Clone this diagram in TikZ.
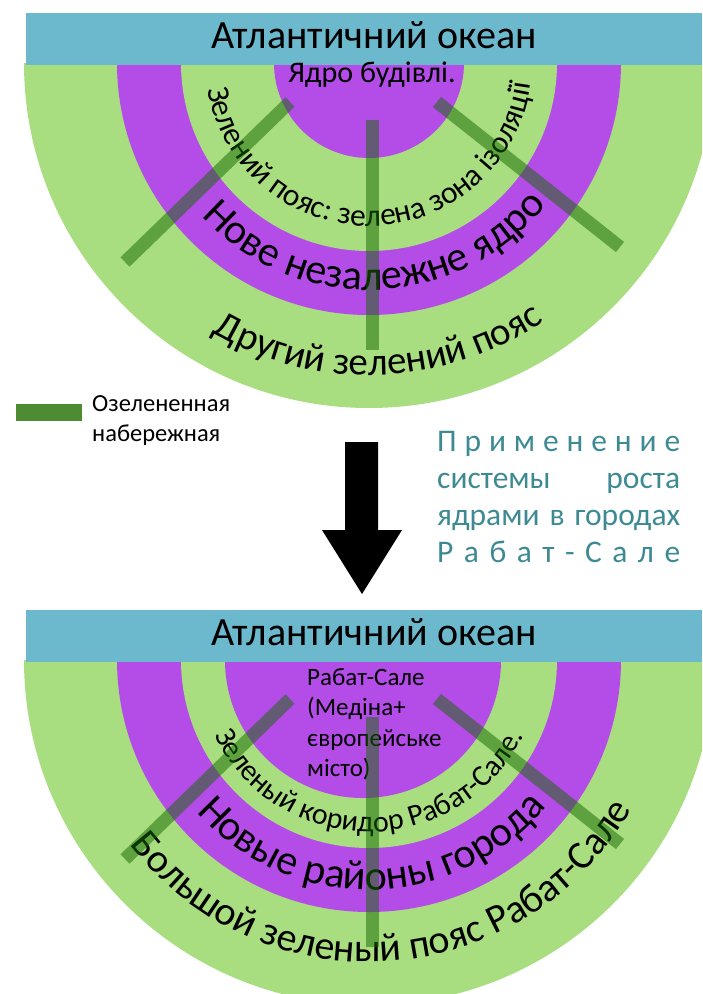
\documentclass[tikz,border=0pt]{standalone}
\usepackage{fontspec}
\setmainfont{Carlito}
\usepackage{tikz}
\usetikzlibrary{decorations.text}
\definecolor{oceanblue}{RGB}{108,184,204}
\definecolor{beltgreen}{RGB}{168,221,128}
\definecolor{coreviolet}{RGB}{180,76,232}
\definecolor{quaygreen}{RGB}{20,105,0}
\definecolor{legendgreen}{RGB}{78,140,52}
\definecolor{noteteal}{RGB}{62,138,147}
\newcommand{\ringfont}{\fontsize{42}{42}\selectfont}
\newcommand{\outerfont}{\fontsize{39}{39}\selectfont}
\newcommand{\innerfont}{\fontsize{30}{30}\selectfont}

\tikzset{
  ocean/.style={fill=oceanblue},
  belt/.style={fill=beltgreen},
  core/.style={fill=coreviolet},
  quay/.style={draw=quaygreen, draw opacity=0.5, line width=13pt},
  ringtext/.style={decorate, decoration={text along path, text align=center, text={#1}}},
  oceantitle/.style={anchor=base, inner sep=0, font=\fontsize{40}{40}\selectfont},
}

\begin{document}
\begin{tikzpicture}[x=1pt, y=1pt]
\clip (0,0) rectangle (702,-994);

\begin{scope}[every node/.style={inner sep=0}]
\fill[belt] (24,-63) arc[start angle=180, end angle=360, radius=345] -- cycle;
\fill[core] (117,-63) arc[start angle=180, end angle=360, radius=252] -- cycle;
\fill[belt] (181,-63) arc[start angle=180, end angle=360, radius=188] -- cycle;
\fill[core] (274,-63) arc[start angle=180, end angle=360, radius=95] -- cycle;
\fill[ocean] (26,-13) rectangle (702,-65);

\node[oceantitle] (ocean1) at (374,-48) {Атлантичний океан};
\node[anchor=base, font=\innerfont] (core1) at (372,-82) {Ядро будівлі.};

\path[ringtext={|\fontsize{31.5}{31.5}\selectfont|Зелений пояс: зелена зона ізоляції}] (369,-63) ++(181:163) arc[start angle=181, end angle=361, radius=163];
\path[ringtext={|\ringfont|Нове незалежне ядро}] (369,-63) ++(182:227) arc[start angle=182, end angle=362, radius=227];
\path[ringtext={|\outerfont|Другий зелений пояс}] (369,-63) ++(182:312) arc[start angle=182, end angle=362, radius=312];

\draw[quay] (290,-102) -- (125,-262);
\draw[quay] (372,-120) -- (372,-350);
\draw[quay] (437,-102) -- (620,-247);
\end{scope}

\begin{scope}[yshift=-597, every node/.style={inner sep=0}]
\fill[belt] (24,-63) arc[start angle=180, end angle=360, radius=345] -- cycle;
\fill[core] (117,-63) arc[start angle=180, end angle=360, radius=252] -- cycle;
\fill[belt] (181,-63) arc[start angle=180, end angle=360, radius=188] -- cycle;
\fill[core] (225,-63) arc[start angle=180, end angle=360, radius=138] -- cycle;
\fill[ocean] (26,-13) rectangle (702,-65);

\node[oceantitle] (ocean2) at (374,-48) {Атлантичний океан};
\node[anchor=north west, align=left, font=\fontsize{25}{30.5}\selectfont] (core2) at (307,-71)
  {Рабат-Сале\\(Медіна+\\європейське\\місто)};

\path[ringtext={|\innerfont|Зеленый коридор Рабат-Сале.}] (369,-63) ++(180:172) arc[start angle=180, end angle=360, radius=172];
\path[ringtext={|\ringfont|Новые районы города}] (369,-63) ++(181:230) arc[start angle=181, end angle=361, radius=230];
\path[ringtext={|\fontsize{40}{40}\selectfont|Большой зеленый пояс Рабат-Сале}] (369,-63) ++(184:302) arc[start angle=184, end angle=364, radius=302];

\draw[quay] (290,-102) -- (125,-262);
\draw[quay] (372,-120) -- (372,-350);
\draw[quay] (437,-102) -- (620,-247);
\end{scope}

\node[fill=legendgreen, minimum width=66pt, minimum height=17pt, inner sep=0] (legendbar) at (49,-412) {};
\node[anchor=north west, align=left, inner sep=0, font=\fontsize{24.5}{30}\selectfont] (legendtext) at (92,-395)
  {Озелененная\\набережная};

\fill (345,-442) -- (378,-442) -- (378,-530) -- (402,-530) -- (362,-594) -- (322,-530) -- (345,-530) -- cycle;

\node[anchor=north west, align=left, inner sep=0, text=noteteal, font=\fontsize{31.5}{37}\selectfont] (method) at (437,-431)
  {\makebox[243pt][s]{П р и м е н е н и е}\\
   \makebox[243pt][s]{системы роста}\\
   \makebox[243pt][s]{ядрами в городах}\\
   \makebox[243pt][s]{Р а б а т - С а л е}};
\end{tikzpicture}
\end{document}
